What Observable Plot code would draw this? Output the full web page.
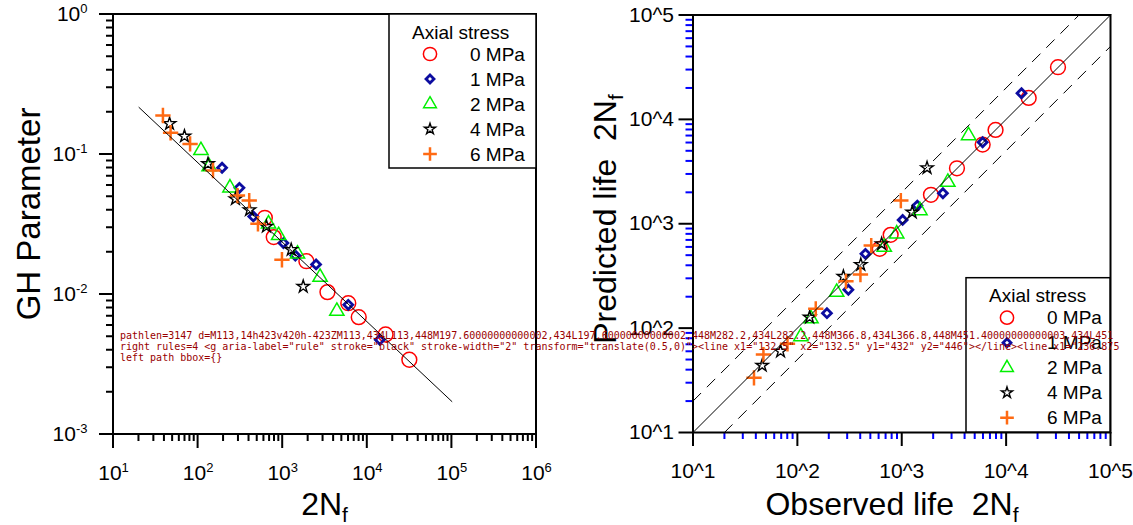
<!DOCTYPE html>
<html><head><meta charset="utf-8">
<script src="https://cdn.jsdelivr.net/npm/d3@7"></script>
<script src="https://cdn.jsdelivr.net/npm/@observablehq/plot@0.6"></script>
<style>
html,body{margin:0;padding:0;background:#fff;}
#wrap{display:flex;width:1133px;height:525px;overflow:hidden;}
#wrap > svg{flex:none;}
#dbg{position:absolute;left:120px;top:330px;font:10px monospace;color:#900;white-space:pre;width:1000px;overflow:hidden;}
</style></head><body><div id="wrap"></div><div id="dbg"></div>
<script>
const FONT = '"Liberation Sans", Arial, Helvetica, sans-serif';
const dbg = [];
window.onerror = (m) => { dbg.push("ERR " + m); document.getElementById("dbg").textContent = dbg.join("\n"); };

const seriesNames = ["0 MPa", "1 MPa", "2 MPa", "4 MPa", "6 MPa"];
const observed0 = [615, 783, 1905, 3380, 5960, 7920, 16450, 31400];
const gh0       = [0.0353, 0.0257, 0.0173, 0.0104, 0.00867, 0.00689, 0.00518, 0.00342];
const predicted0= [575, 783, 1893, 3400, 5740, 7930, 16060, 31600];
const observed1 = [192, 308, 449, 1020, 1410, 2480, 5955, 14045];
const gh1       = [0.0804, 0.0578, 0.0361, 0.0233, 0.0190, 0.0164, 0.00844, 0.00475];
const predicted1= [139, 233, 515, 1089, 1493, 1960, 6040, 17800];
const observed2 = [108, 135, 238, 680, 895, 1495, 2765, 4365];
const gh2       = [0.107, 0.082, 0.0578, 0.032, 0.0264, 0.0195, 0.0133, 0.0076];
const predicted2= [83, 123, 221, 596, 800, 1337, 2500, 7000];
const observed4 = [46, 69, 131, 276, 405, 642, 1260, 1748];
const gh4       = [0.166, 0.135, 0.0858, 0.0482, 0.0402, 0.0306, 0.0209, 0.0114];
const predicted4= [43.9, 60, 127, 312, 406, 641, 1288, 3430];
const observed6 = [38.4, 47.3, 80.4, 150, 292, 402, 510, 980];
const gh6       = [0.190, 0.143, 0.119, 0.0769, 0.0509, 0.0469, 0.032, 0.0177];
const predicted6= [33.4, 55.8, 70.8, 153, 281, 326, 618, 1667];
const fitLife = [20, 100000];
const fitGH   = [0.217, 0.00172];
const diagX  = [10, 100000];
const diagY  = [10, 100000];
const upperX = [10, 50000];
const upperY = [20, 100000];
const lowerX = [20, 100000];
const lowerY = [10, 50000];
const xMajorLeft  = [1e1, 1e2, 1e3, 1e4, 1e5, 1e6];
const yMajorLeft  = [1e-3, 1e-2, 1e-1, 1e0];
const xMajorRight = [1e1, 1e2, 1e3, 1e4, 1e5];
const yMajorRight = [1e1, 1e2, 1e3, 1e4, 1e5];

const styles = [
  {symbol: "circle",   d3sym: d3.symbolCircle,   stroke: "#ff0000", r: 7.4, sw: 1.5},
  {symbol: "diamond2", d3sym: d3.symbolDiamond2, stroke: "#0c0ca0", r: 4.0, sw: 2.8},
  {symbol: "triangle", d3sym: d3.symbolTriangle, stroke: "#00f000", r: 5.3, sw: 1.5},
  {symbol: "star",     d3sym: d3.symbolStar,     stroke: "#000000", r: 3.9, sw: 1.4},
  {symbol: "plus",     d3sym: d3.symbolPlus,     stroke: "#ff6a13", r: 5.0, sw: 2.5}
];
const obsAll  = [observed0, observed1, observed2, observed4, observed6];
const ghAll   = [gh0, gh1, gh2, gh4, gh6];
const predAll = [predicted0, predicted1, predicted2, predicted4, predicted6];
const rows = seriesNames.flatMap((s, i) => obsAll[i].map((o, j) => ({s, i, obs: o, gh: ghAll[i][j], pred: predAll[i][j]})));
const fitRows = fitLife.map((n, k) => ({n, gh: fitGH[k]}));
const diagRows = diagX.map((x, k) => ({x, y: diagY[k]}));
const upperRows = upperX.map((x, k) => ({x, y: upperY[k]}));
const lowerRows = lowerX.map((x, k) => ({x, y: lowerY[k]}));

function minors(lo, hi) {
  const out = [];
  for (let e = lo; e < hi; e++) for (let m = 2; m <= 9; m++) out.push(+(m * Math.pow(10, e)).toPrecision(6));
  return out;
}
const expFmt = d => "10^" + Math.round(Math.log10(d));
function dots(xk, yk) {
  return seriesNames.map((s, i) => Plot.dot(rows.filter(d => d.i === i), {
    x: xk, y: yk, symbol: styles[i].symbol, r: styles[i].r,
    stroke: styles[i].stroke, strokeWidth: styles[i].sw, fill: "none"
  }));
}
function axes(xMaj, yMaj, yPad) {
  return [
    Plot.axisX(xMaj, {anchor: "bottom", tickSize: 0, tickPadding: 31, tickFormat: expFmt, fontSize: 21, label: null}),
    Plot.axisY(yMaj, {anchor: "left", tickSize: 0, tickPadding: 14 + yPad, tickFormat: expFmt, fontSize: 21, label: null})
  ];
}
const leftX = [10, 1e6], leftY = [1e-3, 1];
const rightX = [10, 1e5], rightY = [10, 1e5];

const left = Plot.plot({
  width: 560, height: 525,
  marginLeft: 113, marginRight: 24, marginTop: 14, marginBottom: 91,
  style: {fontFamily: FONT, background: "white", overflow: "visible"},
  x: {type: "log", domain: leftX},
  y: {type: "log", domain: leftY},
  marks: [
    ...axes(xMajorLeft, yMajorLeft, 12),
    ...dots("obs", "gh"),
    Plot.line(fitRows, {x: "n", y: "gh", stroke: "black", strokeWidth: 1})
  ]
});
const right = Plot.plot({
  width: 573, height: 525,
  marginLeft: 132.5, marginRight: 23, marginTop: 14.5, marginBottom: 93,
  style: {fontFamily: FONT, background: "white", overflow: "visible"},
  x: {type: "log", domain: rightX},
  y: {type: "log", domain: rightY},
  marks: [
    ...axes(xMajorRight, yMajorRight, 5),
    Plot.ruleX(xMajorRight, {x: d => d, y1: 10, y2: 10, insetBottom: -14, stroke: "black", strokeWidth: 2}),
    Plot.ruleX(minors(1, 5), {x: d => d, y1: 10, y2: 10, insetBottom: -7, stroke: "blue", strokeWidth: 2}),
    Plot.ruleY(yMajorRight, {y: d => d, x1: 10, x2: 10, insetLeft: -14, stroke: "black", strokeWidth: 2}),
    Plot.ruleY(minors(1, 5), {y: d => d, x1: 10, x2: 10, insetLeft: -7, stroke: "blue", strokeWidth: 2}),
    ...dots("obs", "pred"),
    Plot.line(upperRows, {x: "x", y: "y", stroke: "black", strokeWidth: 1, strokeDasharray: "11,9"}),
    Plot.line(lowerRows, {x: "x", y: "y", stroke: "black", strokeWidth: 1, strokeDasharray: "11,9"}),
    Plot.line(diagRows, {x: "x", y: "y", stroke: "black", strokeWidth: 1}),
    Plot.frame({stroke: "black", strokeWidth: 2})
  ]
});

function supTicks(svg) {
  d3.select(svg).selectAll('g[aria-label$="tick label"] text').each(function () {
    const t = this.textContent;
    if (!t.startsWith("10^")) return;
    const e = t.slice(3);
    const sel = d3.select(this);
    sel.text(null);
    sel.append("tspan").text("10");
    sel.append("tspan").attr("dy", -8).attr("font-size", 13).text(e);
  });
}
function frameTicks(svg, xMaj, xMin, yMaj, yMin) {
  const sx = svg.scale("x"), sy = svg.scale("y");
  const x0 = Math.min(...sx.range), x1 = Math.max(...sx.range);
  const y0 = Math.min(...sy.range), y1 = Math.max(...sy.range);
  const p = d3.path();
  p.rect(x0, y0, x1 - x0, y1 - y0);
  const tx = (v, len) => { const x = sx.apply(v); p.moveTo(x, y1); p.lineTo(x, y1 + len); };
  const ty = (v, len) => { const y = sy.apply(v); p.moveTo(x0, y); p.lineTo(x0 - len, y); };
  xMaj.forEach(v => tx(v, 14));
  xMin.forEach(v => tx(v, 7));
  yMaj.forEach(v => ty(v, 14));
  yMin.forEach(v => ty(v, 7));
  const d = p.toString();
  dbg.push("pathlen=" + d.length + " d=" + d.slice(0, 150));
  d3.select(svg).append("path").attr("d", d)
    .attr("fill", "none").attr("stroke", "black").attr("stroke-width", 2);
}
function title(svg, x, y, main, sub, size, rotate) {
  const t = d3.select(svg).append("text")
    .attr("transform", `translate(${x},${y})` + (rotate ? " rotate(-90)" : ""))
    .attr("text-anchor", "middle").attr("font-family", FONT).attr("font-size", size)
    .style("white-space", "pre").attr("fill", "black");
  t.append("tspan").text(main);
  if (sub) t.append("tspan").attr("dy", 7).attr("font-size", Math.round(size * 0.65)).text(sub);
}
function legend(svg, bx, by, bw, bh) {
  const g = d3.select(svg).append("g").attr("font-family", FONT).attr("font-size", 19).attr("text-anchor", "start");
  g.append("rect").attr("x", bx).attr("y", by).attr("width", bw).attr("height", bh)
    .attr("fill", "white").attr("stroke", "black").attr("stroke-width", 1.5);
  g.append("text").attr("x", bx + 23).attr("y", by + 18).attr("dy", "0.35em").text("Axial stress");
  seriesNames.forEach((s, i) => {
    const cy = by + 40 + 25 * i;
    const st = styles[i];
    g.append("path").attr("transform", `translate(${bx + 41},${cy})`)
      .attr("d", d3.symbol(st.d3sym, Math.PI * st.r * st.r * 0.8)())
      .attr("fill", "none").attr("stroke", st.stroke).attr("stroke-width", st.sw);
    g.append("text").attr("x", bx + 81).attr("y", cy).attr("dy", "0.35em").text(s);
  });
}

supTicks(left);
frameTicks(left, xMajorLeft, minors(1, 6), yMajorLeft, minors(-3, 0));
title(left, 324.5, 515, "2N", "f", 32, false);
title(left, 40, 214, "GH Parameter", null, 33, true);
title(right, 332, 515, "Observed life  2N", "f", 32, false);
title(right, 56, 219, "Predicted life  2N", "f", 32, true);
legend(left, 389, 14, 147, 154);
legend(right, 406, 277.7, 144, 154.3);
const wrap = document.getElementById("wrap");
wrap.appendChild(left);
wrap.appendChild(right);
const rr = right.querySelectorAll('g[aria-label="rule"]');
dbg.push("right rules=" + rr.length + " " + (rr[0] ? rr[0].outerHTML.slice(0, 200) : ""));
const lp = left.querySelector("svg > path:last-of-type");
dbg.push("left path bbox=" + (lp ? JSON.stringify(lp.getBBox()) : "none"));
document.getElementById("dbg").textContent = dbg.join("\n");
</script></body></html>
